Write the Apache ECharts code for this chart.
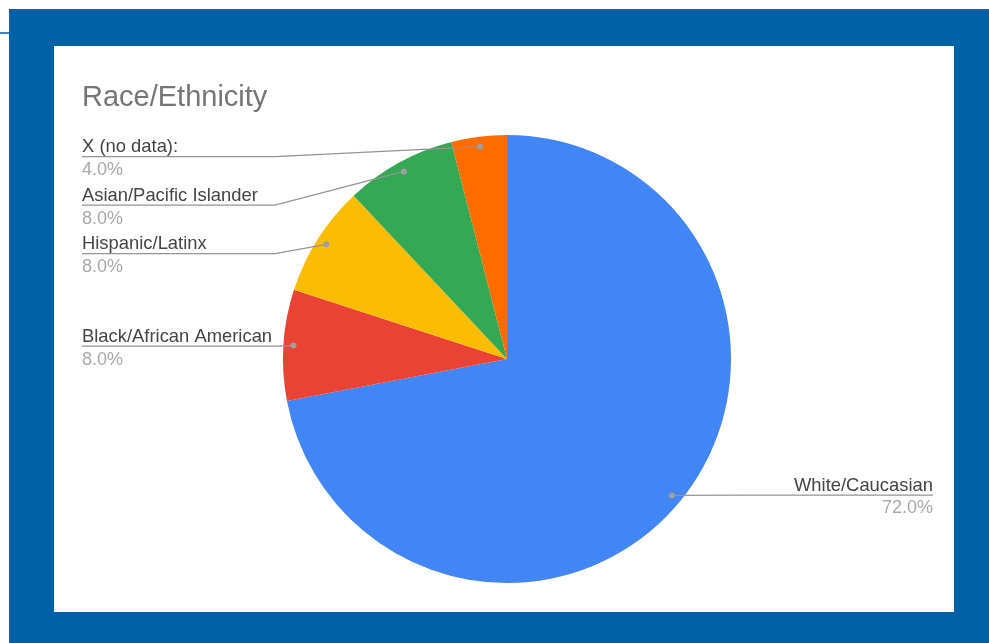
<!DOCTYPE html>
<html><head><meta charset="utf-8">
<script src="https://cdn.jsdelivr.net/npm/echarts@6/dist/echarts.min.js"></script>
<style>
html,body{margin:0;padding:0;background:#fff;width:989px;height:643px;overflow:hidden;}
#frame{position:absolute;left:9px;top:9px;width:980px;height:634px;background:#0061a6;}
#panel{position:absolute;left:54px;top:46px;width:900px;height:566px;background:#fff;}
#tick{position:absolute;left:0;top:32px;width:9px;height:2px;background:#3d85c6;}
#chart{position:absolute;left:0;top:0;width:989px;height:643px;}
</style></head><body>
<div id="frame"></div><div id="panel"></div><div id="tick"></div><div id="chart"></div>
<script>
// ---- data ----
const categories = ['White/Caucasian', 'Black/African American', 'Hispanic/Latinx', 'Asian/Pacific Islander', 'X (no data):'];
const shares = [72, 8, 8, 8, 4];
const colors = ['#4285f4', '#ea4335', '#fbbc04', '#34a853', '#ff6d01'];
const titleText = 'Race/Ethnicity';

// ---- layout constants ----
const FONT = '"Liberation Sans", Arial, sans-serif';
const W = 989;
const VIEW_LEFT = 82, VIEW_RIGHT = 56;
const LABEL_COL = 193;
const CX = 507, CY = 359, R = 224, R_DOT = 214;

const chart = echarts.init(document.getElementById('chart'), null, {renderer: 'canvas'});

const pieData = categories.map((name, i) => ({name: name, value: shares[i], itemStyle: {color: colors[i]}}));
const labelData = categories.map((name, i) => ({name: name, value: shares[i]}));
labelData[0].labelLine = {length: -10.6};
const dotData = categories.map((name, i) => ({name: name, value: shares[i]}));

const common = {
  type: 'pie',
  left: VIEW_LEFT, right: VIEW_RIGHT, top: 0, bottom: 0,
  center: [CX - VIEW_LEFT, CY],
  startAngle: 90,
  clockwise: true,
  animation: false,
  emphasis: {disabled: true}
};
const clear = {color: 'rgba(0,0,0,0)', borderWidth: 0};

chart.setOption({
  animation: false,
  title: {
    text: titleText, left: 82, top: 83, padding: 0,
    textStyle: {fontSize: 29, color: '#757575', fontWeight: 'normal', fontFamily: FONT}
  },
  series: [
    Object.assign({}, common, {
      name: 'slices',
      z: 2,
      radius: [0, R],
      data: pieData,
      itemStyle: {borderWidth: 0},
      label: {show: false},
      labelLine: {show: false}
    }),
    Object.assign({}, common, {
      name: 'labels',
      z: 3,
      silent: true,
      radius: [0, R],
      data: labelData,
      avoidLabelOverlap: true,
      itemStyle: clear,
      label: {
        show: true,
        position: 'outside',
        alignTo: 'edge',
        edgeDistance: 0,
        distanceToLabelLine: 0,
        minMargin: 7.5,
        padding: [5, 0, 1, 0],
        formatter: p => '{n|' + p.name + '}\n{p|' + p.percent.toFixed(1) + '%}',
        rich: {
          n: {fontSize: 18.4, color: '#444444', lineHeight: 23, fontFamily: FONT},
          p: {fontSize: 18, color: '#a8a8a8', lineHeight: 23, fontFamily: FONT}
        }
      },
      labelLine: {
        show: true, length: -20, length2: 10,
        lineStyle: {color: '#939393', width: 1.3}
      },
      labelLayout: function (params) {
        const pts = params.labelLinePoints;
        if (!pts) return {};
        const rect = params.labelRect;
        const isLeft = rect.x < CX;
        const k = R_DOT / R;
        const dot = [CX + (pts[0][0] - CX) * k, CY + (pts[0][1] - CY) * k];
        const y = pts[2][1];
        const bend = isLeft ? VIEW_LEFT + LABEL_COL : W - VIEW_RIGHT - LABEL_COL;
        const end = isLeft ? VIEW_LEFT : W - VIEW_RIGHT;
        return {labelLinePoints: [dot, [bend, y], [end, y]]};
      }
    }),
    Object.assign({}, common, {
      name: 'dots',
      z: 4,
      silent: true,
      radius: [R_DOT - 9, R_DOT + 3],
      data: dotData,
      avoidLabelOverlap: false,
      itemStyle: clear,
      labelLine: {show: false},
      label: {
        show: true, position: 'inside',
        formatter: ' ',
        width: 6, height: 6, lineHeight: 6, fontSize: 6,
        borderRadius: 3, backgroundColor: '#9e9e9e', padding: 0
      }
    })
  ]
});
</script>
</body></html>
